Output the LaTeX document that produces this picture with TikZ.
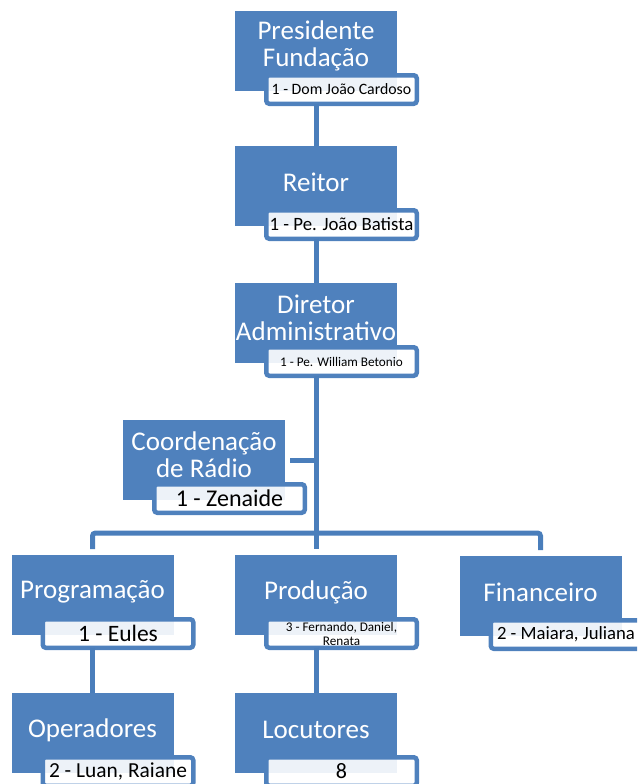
\documentclass[tikz,border=0pt]{standalone}
\usepackage{fontspec}
\setmainfont{Carlito}
\usepackage{tikz}
\usetikzlibrary{calc}
\definecolor{orgblue}{HTML}{4F81BD}
\definecolor{lineblue}{HTML}{4A7EBB}

\begin{document}
\begin{tikzpicture}[x=1pt,y=-1pt]
\tikzstyle{every node}=[inner sep=0pt,outer sep=0pt];
\tikzstyle{cargo}=[fill=orgblue,minimum width=162pt,minimum height=80pt];
\tikzstyle{titulo}=[text=white,align=center,font=\fontsize{27}{27}\selectfont];
\tikzstyle{nome}=[draw=orgblue,line width=4.5pt,rounded corners=3pt,fill=white,fill opacity=0.9,text opacity=1,text=black,minimum width=150.5pt,minimum height=28.5pt,align=center];
\tikzstyle{linha}=[draw=lineblue,line width=5pt];
\clip (0,0) rectangle (637,784);

% topo
\node[cargo,label={[titulo,name=pres-t,yshift=5pt]center:Presidente\\Fundação}] (pres) at (316,51) {};
\node[nome,font=\fontsize{15.8}{17}\selectfont] (pres-n) at ($(pres)+(25.5,38.5)$) {1 - Dom João Cardoso};
\node[cargo,label={[titulo,name=reit-t,yshift=4pt]center:Reitor}] (reit) at (316,186) {};
\node[nome,font=\fontsize{18.8}{20}\selectfont] (reit-n) at ($(reit)+(25.5,38.5)$) {1 - Pe. João Batista};
\node[cargo,label={[titulo,name=dir-t,yshift=5.5pt]center:Diretor\\Administrativo}] (dir) at (316,323) {};
\node[nome,font=\fontsize{13.2}{15}\selectfont] (dir-n) at ($(dir)+(25.5,38.5)$) {1 - Pe. William Betonio};
\node[cargo,label={[titulo,name=coord-t,yshift=5.5pt]center:Coordenação\\de Rádio}] (coord) at (204,460) {};
\node[nome,font=\fontsize{24}{26}\selectfont] (coord-n) at ($(coord)+(25.5,38.5)$) {1 - Zenaide};

% setores
\node[cargo,label={[titulo,name=prog-t,yshift=3pt]center:Programação}] (prog) at (92.5,595) {};
\node[nome,font=\fontsize{23.5}{25}\selectfont] (prog-n) at ($(prog)+(25.5,38.5)$) {1 - Eules};
\node[cargo,label={[titulo,name=prod-t,yshift=3pt]center:Produção}] (prod) at (316,595) {};
\node[nome,font=\fontsize{13.2}{14}\selectfont] (prod-n) at ($(prod)+(25.5,38.5)$) {3 - Fernando, Daniel,\\Renata};
\node[cargo,label={[titulo,name=fin-t,yshift=4pt]center:Financeiro}] (fin) at (540.5,596) {};
\node[nome,font=\fontsize{18.7}{20}\selectfont] (fin-n) at ($(fin)+(25.5,38.5)$) {2 - Maiara, Juliana};
\node[cargo,label={[titulo,name=oper-t,yshift=3pt]center:Operadores}] (oper) at (92.5,733) {};
\node[nome,font=\fontsize{21.4}{23}\selectfont] (oper-n) at ($(oper)+(25.5,38.5)$) {2 - Luan, Raiane};
\node[cargo,label={[titulo,name=locu-t,yshift=3pt]center:Locutores}] (locu) at (316,733) {};
\node[nome,font=\fontsize{22}{24}\selectfont] (locu-n) at ($(locu)+(25.5,38.5)$) {8};

% ligacoes
\coordinate (barra) at (316,533);
\draw[linha] (pres.center |- pres-n.south) -- (reit.north);
\draw[linha] (reit.center |- reit-n.south) -- (dir.north);
\draw[linha] (dir.center |- dir-n.south) -- ([yshift=6pt]prod.north);
\draw[linha] ([xshift=5pt]coord.east) -- (coord.east -| dir.center);
\draw[linha,rounded corners=3pt] ([yshift=6pt]prog.north) |- (barra) -| ([yshift=6pt]fin.north);
\draw[linha] (prog.center |- prog-n.south) -- (oper.north);
\draw[linha] (prod.center |- prod-n.south) -- (locu.north);
\end{tikzpicture}
\end{document}
